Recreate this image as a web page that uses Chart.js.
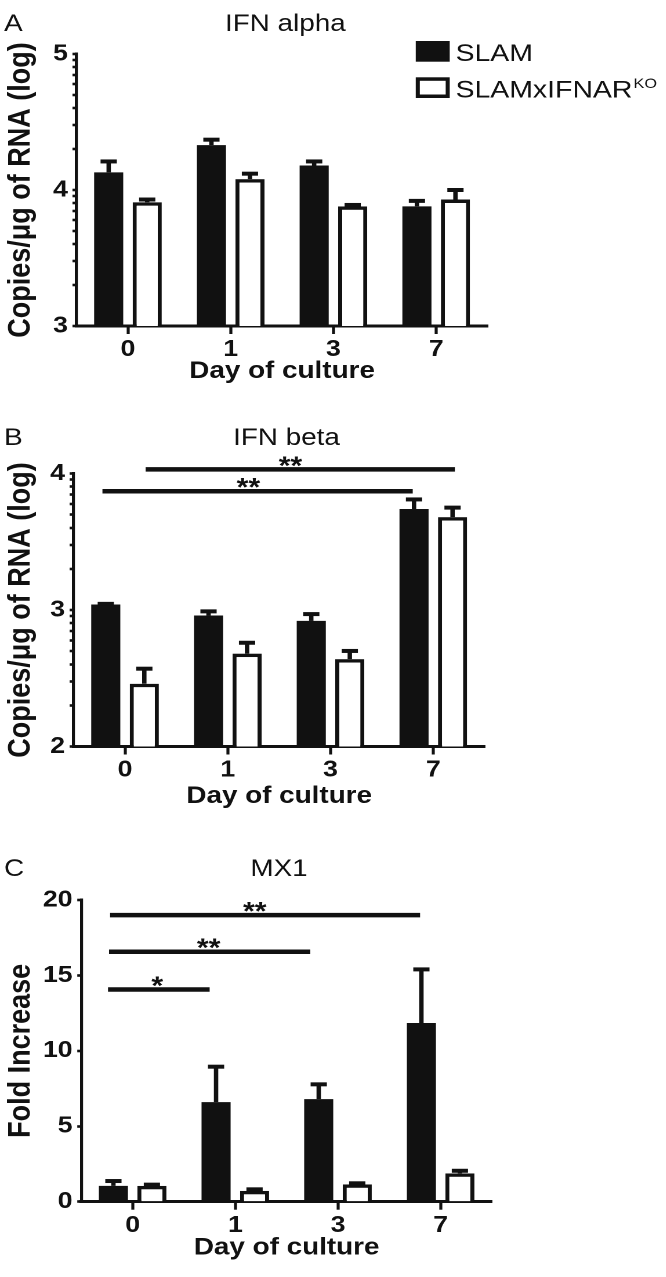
<!DOCTYPE html>
<html>
<head>
<meta charset="utf-8">
<script src="https://cdn.jsdelivr.net/npm/chart.js@4"></script>
<style>
  body { margin: 0; background: #fff; }
  #fig { position: relative; width: 666px; height: 1277px; overflow: hidden; }
  /* the original figure is stretched sideways, so every panel is too */
  #fig canvas { position: absolute; left: 0; transform: scaleX(1.16); transform-origin: 0 0; }
</style>
</head>
<body>
<div id="fig">
  <canvas id="panelA" width="574" height="420" style="top:0"></canvas>
  <canvas id="panelB" width="574" height="420" style="top:420px"></canvas>
  <canvas id="panelC" width="574" height="437" style="top:840px"></canvas>
</div>
<script>
const days = ['0', '1', '3', '7'];
const groups = ['SLAM', 'SLAMxIFNAR'];
const groupSup = ['', 'KO'];

// A - IFN alpha, log copies/ug RNA (bar top, top of error bar)
const alphaSlam = [4.13, 4.33, 4.18, 3.88];
const alphaSlamErr = [4.21, 4.37, 4.21, 3.92];
const alphaKo = [3.91, 4.08, 3.88, 3.93];
const alphaKoErr = [3.93, 4.12, 3.89, 4.00];
const alphaTicks = [3, 4, 5];

// B - IFN beta
const betaSlam = [3.04, 2.96, 2.92, 3.74];
const betaSlamErr = [3.045, 2.99, 2.97, 3.81];
const betaKo = [2.46, 2.68, 2.64, 3.68];
const betaKoErr = [2.57, 2.76, 2.70, 3.75];
const betaTicks = [2, 3, 4];
const betaSigFrom = [0.2, -0.22];
const betaSigTo = [3.21, 2.8];
const betaSigLevel = [4.03, 3.87];
const betaSigLabelAt = [1.61, 1.2];
const betaSigText = ['**', '**'];

// C - MX1 fold increase
const mx1Slam = [1.05, 6.6, 6.8, 11.85];
const mx1SlamErr = [1.37, 8.95, 7.78, 15.4];
const mx1Ko = [1.05, 0.72, 1.15, 1.88];
const mx1KoErr = [1.13, 0.82, 1.22, 2.05];
const mx1Ticks = [0, 5, 10, 15, 20];
const mx1SigFrom = [-0.22, -0.23, -0.24];
const mx1SigTo = [2.8, 1.73, 0.75];
const mx1SigLevel = [19.0, 16.57, 14.07];
const mx1SigLabelAt = [1.19, 0.74, 0.24];
const mx1SigText = ['**', '**', '*'];

const FONT = "'Liberation Sans', Arial, sans-serif";
const INK = '#111';
Chart.defaults.font.family = FONT;
Chart.defaults.color = INK;

const errorBars = {
  id: 'errorBars',
  afterDatasetsDraw(chart) {
    const ctx = chart.ctx;
    const y = chart.scales.y;
    ctx.save();
    ctx.strokeStyle = INK;
    chart.data.datasets.forEach((ds, i) => {
      chart.getDatasetMeta(i).data.forEach((bar, j) => {
        const top = y.getPixelForValue(ds.errTop[j]);
        ctx.lineWidth = 3.8;
        ctx.beginPath();
        ctx.moveTo(bar.x, bar.y);
        ctx.lineTo(bar.x, top);
        ctx.stroke();
        ctx.lineWidth = 4;
        ctx.beginPath();
        ctx.moveTo(bar.x - 7, top);
        ctx.lineTo(bar.x + 7, top);
        ctx.stroke();
      });
    });
    ctx.restore();
  }
};

const sigLines = {
  id: 'sigLines',
  afterDraw(chart, args, o) {
    if (!o.from) return;
    const ctx = chart.ctx;
    const { x, y } = chart.scales;
    ctx.save();
    ctx.strokeStyle = INK;
    ctx.fillStyle = INK;
    ctx.lineWidth = 4.5;
    ctx.font = 'bold 26px ' + FONT;
    ctx.textAlign = 'center';
    ctx.textBaseline = 'alphabetic';
    o.from.forEach((f, i) => {
      const yy = y.getPixelForValue(o.level[i]);
      ctx.beginPath();
      ctx.moveTo(x.getPixelForValue(f), yy);
      ctx.lineTo(x.getPixelForValue(o.to[i]), yy);
      ctx.stroke();
      ctx.fillText(o.text[i], x.getPixelForValue(o.labelAt[i]), yy + 5);
    });
    ctx.restore();
  }
};

const panelTitle = {
  id: 'panelTitle',
  afterDraw(chart, args, o) {
    const ctx = chart.ctx;
    ctx.save();
    ctx.fillStyle = INK;
    ctx.font = '24px ' + FONT;
    ctx.textBaseline = 'alphabetic';
    ctx.textAlign = 'left';
    ctx.fillText(o.letter, 3.5, o.baseY);
    ctx.textAlign = 'center';
    ctx.fillText(o.text, o.x, o.baseY);
    ctx.restore();
  }
};

const boxLegend = {
  id: 'boxLegend',
  afterDraw(chart, args, o) {
    if (!o.show) return;
    const ctx = chart.ctx;
    ctx.save();
    chart.data.datasets.forEach((ds, i) => {
      const top = o.y + i * o.gap;
      ctx.fillStyle = ds.backgroundColor;
      ctx.fillRect(o.x, top, o.w, o.h);
      if (ds.borderWidth) {
        const bw = ds.borderWidth;
        ctx.lineWidth = bw;
        ctx.strokeStyle = ds.borderColor;
        ctx.strokeRect(o.x + bw / 2, top + bw / 2, o.w - bw, o.h - bw);
      }
      ctx.fillStyle = INK;
      ctx.textAlign = 'left';
      ctx.textBaseline = 'alphabetic';
      ctx.font = '24.5px ' + FONT;
      const tx = o.x + o.w + 5;
      ctx.fillText(ds.label, tx, top + 20);
      if (groupSup[i]) {
        const w = ctx.measureText(ds.label).width;
        ctx.font = '14px ' + FONT;
        ctx.fillText(groupSup[i], tx + w + 1, top + 10.5);
      }
    });
    ctx.restore();
  }
};

function minorLogTicks(majors) {
  const vals = [];
  majors.forEach((m, i) => {
    vals.push(m);
    if (i < majors.length - 1) {
      for (let k = 2; k <= 9; k++) vals.push(m + Math.log10(k));
    }
  });
  return vals;
}

function makePanel(id, p) {
  const canvas = document.getElementById(id);
  const W = canvas.width, H = canvas.height;
  const L = p.layout;
  const tickVals = p.logMinor ? minorLogTicks(p.ticks) : p.ticks;
  return new Chart(canvas, {
    type: 'bar',
    data: {
      labels: days,
      datasets: [
        { label: groups[0], data: p.slam, errTop: p.slamErr,
          backgroundColor: INK, borderColor: INK, borderWidth: 0,
          categoryPercentage: 0.75, barPercentage: 0.755 },
        { label: groups[1], data: p.ko, errTop: p.koErr,
          backgroundColor: '#fff', borderColor: INK, borderWidth: 3.5,
          categoryPercentage: 0.75, barPercentage: 0.755 }
      ]
    },
    options: {
      responsive: false,
      animation: false,
      devicePixelRatio: 2,
      layout: { padding: { left: 0, right: W - L.right, top: L.top, bottom: 0 } },
      scales: {
        x: {
          offset: true,
          afterFit: s => { s.height = H - L.bottom; },
          border: { color: INK, width: 3 },
          grid: { offset: false, drawOnChartArea: false, tickLength: 8, tickWidth: 2.6, tickColor: INK },
          ticks: { padding: 2, color: INK, font: { size: 23, weight: 'bold' } },
          title: { display: true, text: 'Day of culture', color: INK,
                   font: { size: 24, weight: 'bold' },
                   padding: { top: 0, bottom: H - 14.4 - L.xTitle } }
        },
        y: {
          min: p.ticks[0],
          max: p.ticks[p.ticks.length - 1],
          afterBuildTicks: s => { s.ticks = tickVals.map(v => ({ value: v })); },
          afterFit: s => { s.width = L.left; },
          border: { color: INK, width: 2.6 },
          grid: { drawOnChartArea: false, tickLength: 3.5, tickWidth: 2.6, tickColor: INK },
          ticks: { autoSkip: false, padding: 4, color: INK, font: { size: 23, weight: 'bold' },
                   callback: v => p.ticks.includes(v) ? String(v) : '' },
          title: { display: true, text: p.yTitle, color: INK,
                   font: { size: 27, weight: 'bold' }, padding: { top: 2, bottom: 0 } }
        }
      },
      plugins: {
        legend: { display: false },
        tooltip: { enabled: false },
        panelTitle: { letter: p.letter, text: p.title, x: p.titleX, baseY: p.titleY },
        sigLines: p.sig || {},
        boxLegend: { show: !!p.legend, x: 358.4, y: 41, w: 29.3, h: 20.7, gap: 36.3 }
      }
    },
    plugins: [errorBars, sigLines, panelTitle, boxLegend]
  });
}

makePanel('panelA', {
  letter: 'A', title: 'IFN alpha', titleX: 246, titleY: 31,
  slam: alphaSlam, slamErr: alphaSlamErr, ko: alphaKo, koErr: alphaKoErr,
  ticks: alphaTicks, logMinor: true, yTitle: 'Copies/μg of RNA (log)', legend: true,
  layout: { left: 66.0, right: 420.3, top: 54, bottom: 326, xTitle: 371.5 }
});

makePanel('panelB', {
  letter: 'B', title: 'IFN beta', titleX: 247, titleY: 25,
  slam: betaSlam, slamErr: betaSlamErr, ko: betaKo, koErr: betaKoErr,
  ticks: betaTicks, logMinor: true, yTitle: 'Copies/μg of RNA (log)',
  sig: { from: betaSigFrom, to: betaSigTo, level: betaSigLevel, labelAt: betaSigLabelAt, text: betaSigText },
  layout: { left: 63.5, right: 417.8, top: 53.5, bottom: 326.5, xTitle: 376.5 }
});

makePanel('panelC', {
  letter: 'C', title: 'MX1', titleX: 240.5, titleY: 36,
  slam: mx1Slam, slamErr: mx1SlamErr, ko: mx1Ko, koErr: mx1KoErr,
  ticks: mx1Ticks, logMinor: false, yTitle: 'Fold Increase',
  sig: { from: mx1SigFrom, to: mx1SigTo, level: mx1SigLevel, labelAt: mx1SigLabelAt, text: mx1SigText },
  layout: { left: 70.1, right: 424.1, top: 60, bottom: 361.7, xTitle: 407.7 }
});
</script>
</body>
</html>
